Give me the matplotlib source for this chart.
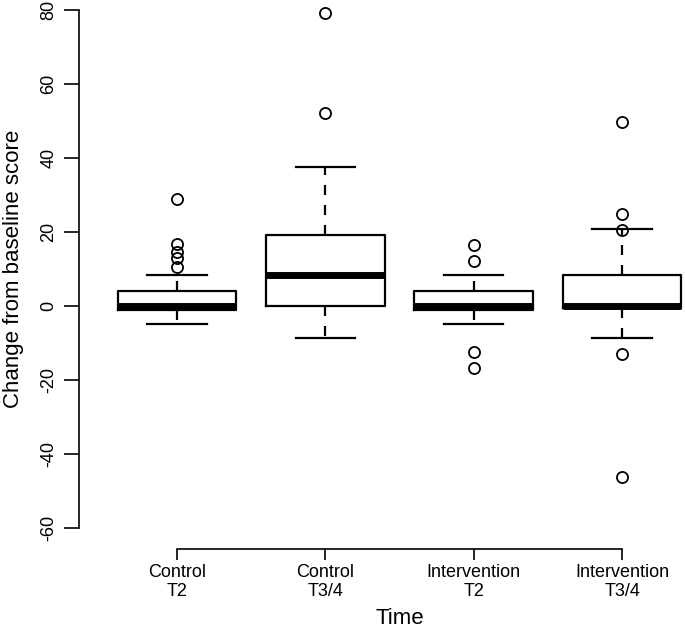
import matplotlib.pyplot as plt
import numpy as np

plt.rcParams['font.family'] = ['Liberation Sans', 'DejaVu Sans']

# data
groups = ['Control\nT2', 'Control\nT3/4', 'Intervention\nT2', 'Intervention\nT3/4']
q1 = [-1.0, 0.0, -1.0, -0.5]
medians = [0.0, 8.3, 0.0, 0.0]
q3 = [4.1, 19.1, 4.1, 8.3]
whislo = [-4.7, -8.5, -4.9, -8.5]
whishi = [8.3, 37.5, 8.3, 20.8]
fliers = [
    [29.0, 16.9, 14.7, 12.9, 10.6],
    [79.1, 52.3],
    [16.5, 12.3, -12.5, -16.8],
    [49.7, 24.8, 20.7, -12.8, -46.1],
]
yticks = [-60, -40, -20, 0, 20, 40, 60, 80]

stats = []
for i in range(len(groups)):
    stats.append({'med': medians[i], 'q1': q1[i], 'q3': q3[i],
                  'whislo': whislo[i], 'whishi': whishi[i],
                  'fliers': np.array(fliers[i])})

fig = plt.figure(figsize=(6.85, 6.3), dpi=100)
ax = fig.add_axes([79 / 685, 81 / 630, 641 / 685, 559.7 / 630])

lw = 1.6
ax.bxp(stats, positions=[1, 2, 3, 4], widths=0.8, capwidths=0.4,
       boxprops=dict(color='black', linewidth=lw),
       medianprops=dict(color='black', linewidth=5.0, solid_capstyle='butt'),
       whiskerprops=dict(color='black', linewidth=lw, linestyle=(0, (4.5, 4.5))),
       capprops=dict(color='black', linewidth=lw),
       flierprops=dict(marker='o', markerfacecolor='none', markeredgecolor='black',
                       markersize=8, markeredgewidth=1.3, linestyle='none'))

ax.set_xlim(0.34, 4.66)
ax.set_ylim(-65.6, 85.6)

ax.spines['top'].set_visible(False)
ax.spines['right'].set_visible(False)
ax.spines['left'].set_bounds(-60, 80)
ax.spines['bottom'].set_bounds(1, 4)
ax.spines['left'].set_linewidth(1.2)
ax.spines['bottom'].set_linewidth(1.2)

ax.set_yticks(yticks)
ax.set_yticklabels([str(t) for t in yticks], rotation=90, va='center')
ax.set_xticks([1, 2, 3, 4])
ax.set_xticklabels(groups, linespacing=1.15)
ax.tick_params(axis='y', length=10.6, width=1.2, labelsize=13, pad=5)
ax.tick_params(axis='x', length=7.7, width=1.2, labelsize=13, pad=3)

fig.text(14 / 685, 1 - 269 / 630, 'Change from baseline score', rotation=90,
         ha='center', va='center', fontsize=16)
fig.text(399.5 / 685, 1 - 619 / 630, 'Time', ha='center', va='center', fontsize=16)

fig.savefig('out.png', dpi=100)
